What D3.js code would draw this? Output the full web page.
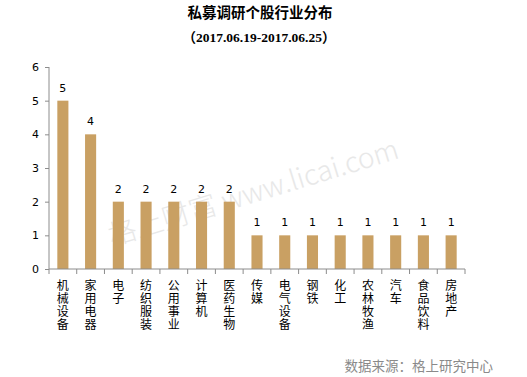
<!DOCTYPE html>
<html>
<head>
<meta charset="utf-8">
<style>
body { margin: 0; background: #fff; }
.axis path, .axis line { stroke: #8c8c8c; }
.axis text { font-family: "DejaVu Sans", Verdana, sans-serif; font-size: 11px; fill: #000; }
.cat { writing-mode: vertical-rl; text-orientation: upright; }
</style>
<title>私募调研个股行业分布</title>
</head>
<body>
<div id="chart"></div>
<script src="https://d3js.org/d3.v7.min.js"></script>
<script>
// data
var industries = ["机械设备", "家用电器", "电子", "纺织服装", "公用事业", "计算机", "医药生物",
                  "传媒", "电气设备", "钢铁", "化工", "农林牧渔", "汽车", "食品饮料", "房地产"];
var counts = [5, 4, 2, 2, 2, 2, 2, 1, 1, 1, 1, 1, 1, 1, 1];
var yTicks = [0, 1, 2, 3, 4, 5, 6];
var title = "私募调研个股行业分布";
var subtitle = "（2017.06.19-2017.06.25）";
var source = "数据来源：格上研究中心";
var watermark = "格上财富 www.licai.com";

var width = 527, height = 377;
var svg = d3.select("#chart").append("svg")
    .attr("width", width)
    .attr("height", height);

var x = d3.scaleBand()
    .domain(industries)
    .range([49, 465])
    .paddingInner(0.6)
    .paddingOuter(0.3);

var y = d3.scaleLinear()
    .domain([0, 6])
    .range([269, 67]);

// watermark, sits under the bars
svg.append("text")
    .attr("transform", "translate(112,246) rotate(-17)")
    .attr("font-family", "'Noto Sans CJK SC', sans-serif")
    .attr("font-weight", 300)
    .attr("font-size", 28)
    .attr("fill", "#e8e8e8")
    .text(watermark);

// titles
svg.append("text")
    .attr("x", 260).attr("y", 18)
    .attr("text-anchor", "middle")
    .attr("font-family", "'Noto Sans CJK SC', sans-serif")
    .attr("font-weight", "bold")
    .attr("font-size", 14.5)
    .text(title);

svg.append("text")
    .attr("x", 259).attr("y", 42)
    .attr("text-anchor", "middle")
    .attr("font-family", "'Liberation Serif', 'Noto Sans CJK SC', serif")
    .attr("font-weight", "bold")
    .attr("font-size", 13.5)
    .text(subtitle);

// bars
svg.append("g")
    .selectAll("rect")
    .data(counts)
    .enter().append("rect")
      .attr("x", function(d, i) { return x(industries[i]); })
      .attr("y", function(d) { return y(d); })
      .attr("width", x.bandwidth())
      .attr("height", function(d) { return y(0) - y(d); })
      .attr("fill", "#c9a063");

// value labels
svg.append("g")
    .selectAll("text")
    .data(counts)
    .enter().append("text")
      .attr("x", function(d, i) { return x(industries[i]) + x.bandwidth() / 2; })
      .attr("y", function(d) { return y(d) - 9; })
      .attr("text-anchor", "middle")
      .attr("font-family", "'DejaVu Sans', Verdana, sans-serif")
      .attr("font-size", 11)
      .text(function(d) { return d; });

// y axis
svg.append("g")
    .attr("class", "axis")
    .attr("transform", "translate(49,0)")
    .call(d3.axisLeft(y).tickValues(yTicks).tickFormat(d3.format("d")).tickSize(4).tickPadding(6))
    .call(function(g) { g.select(".domain").attr("d", "M0," + y(6) + "V" + y(0)); });

// x axis: ticks at category boundaries
var xAxis = svg.append("g")
    .attr("class", "axis")
    .attr("transform", "translate(0," + y(0) + ")");

xAxis.append("line")
    .attr("x1", 49).attr("x2", 465)
    .attr("stroke", "#8c8c8c");

var step = x.step();
xAxis.selectAll(".tick")
    .data(d3.range(industries.length + 1))
    .enter().append("line")
      .attr("x1", function(i) { return 49 + i * step; })
      .attr("x2", function(i) { return 49 + i * step; })
      .attr("y1", 0).attr("y2", 5)
      .attr("stroke", "#8c8c8c");

// vertical category labels, one character per text
var cats = svg.append("g")
    .attr("font-family", "'Noto Sans CJK SC', sans-serif")
    .attr("font-size", 12);

industries.forEach(function(name) {
  name.split("").forEach(function(ch, j) {
    cats.append("text")
      .attr("class", "cat")
      .attr("x", x(name) + x.bandwidth() / 2)
      .attr("y", 279 + j * 13)
      .text(ch);
  });
});

// source note
svg.append("text")
    .attr("x", 493).attr("y", 371)
    .attr("text-anchor", "end")
    .attr("font-family", "'Noto Sans CJK SC', sans-serif")
    .attr("font-size", 13.5)
    .attr("fill", "#8a8a8a")
    .text(source);
</script>
</body>
</html>
